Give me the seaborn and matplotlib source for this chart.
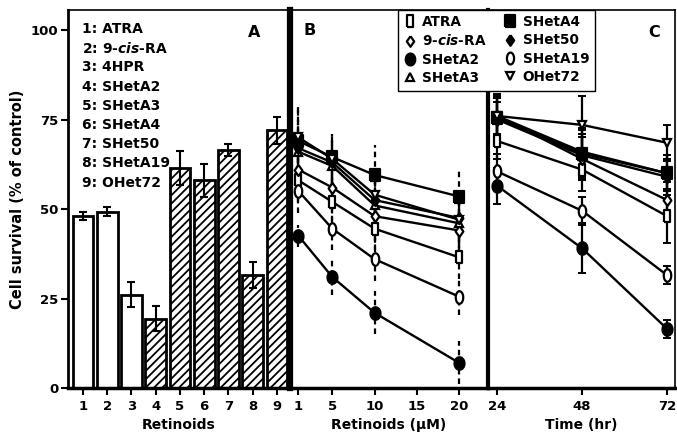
import numpy as np
import pandas as pd
import matplotlib
matplotlib.use("Agg")
import matplotlib.pyplot as plt
from matplotlib.lines import Line2D
import seaborn as sns

sns.set_theme(style="ticks")
plt.rcParams['font.family'] = ['DejaVu Sans']
plt.rcParams['font.weight'] = 'bold'
plt.rcParams['axes.labelweight'] = 'bold'
plt.rcParams['text.color'] = 'black'
plt.rcParams['axes.labelcolor'] = 'black'
plt.rcParams['mathtext.fontset'] = 'custom'
plt.rcParams['mathtext.it'] = 'DejaVu Sans:italic:bold'
plt.rcParams['mathtext.rm'] = 'DejaVu Sans:bold'
plt.rcParams['hatch.linewidth'] = 1.3

# --- dados: painel A (barras) ---
bar_labels = ['1', '2', '3', '4', '5', '6', '7', '8', '9']
bar_names = ['ATRA', '9-$\\it{cis}$-RA', '4HPR', 'SHetA2', 'SHetA3',
             'SHetA4', 'SHet50', 'SHetA19', 'OHet72']
bar_vals = [48.0, 49.3, 26.0, 19.3, 61.5, 58.0, 66.5, 31.5, 72.0]
bar_err = [1.2, 1.3, 3.5, 3.5, 4.7, 4.5, 1.8, 3.7, 3.8]
bar_hatched = [False, False, False, True, True, True, True, True, True]

# --- dados: painel B (dose) ---
conc_um = [1, 5, 10, 20]
b_atra = [58.0, 52.0, 44.5, 36.5]
b_9cis = [61.0, 56.0, 48.0, 44.0]
b_sheta2 = [42.5, 31.0, 21.0, 7.0]
b_sheta3 = [66.0, 62.0, 51.0, 46.0]
b_sheta4 = [69.0, 64.5, 59.5, 53.5]
b_shet50 = [67.0, 63.0, 52.5, 47.5]
b_sheta19 = [55.0, 44.5, 36.0, 25.5]
b_ohet72 = [70.0, 64.0, 54.0, 47.0]
b_err = [[6, 6, 6, 6], [6, 6, 7, 6], [3, 5, 6, 6], [7, 6, 7, 7],
         [9, 6.5, 8.5, 8], [7, 6, 7, 7], [6, 6, 6, 5], [9, 7, 8, 7]]

# --- dados: painel C (tempo) ---
time_hr = [24, 48, 72]
c_atra = [69.0, 61.0, 48.0]
c_9cis = [76.0, 64.0, 52.5]
c_sheta2 = [56.5, 39.0, 16.5]
c_sheta3 = [76.0, 66.0, 60.0]
c_sheta4 = [75.5, 65.5, 60.0]
c_shet50 = [75.0, 65.0, 59.0]
c_sheta19 = [60.5, 49.5, 31.5]
c_ohet72 = [76.0, 73.5, 68.5]
c_err = [[5, 6, 7.5], [5, 6, 5], [5, 7, 2.5], [5, 6, 5],
         [6, 7, 5], [5, 6, 5], [5, 4, 2.5], [6, 8, 5]]

compounds = ['ATRA', '9-$\\it{cis}$-RA', 'SHetA2', 'SHetA3',
             'SHetA4', 'SHet50', 'SHetA19', 'OHet72']
b_series = [b_atra, b_9cis, b_sheta2, b_sheta3, b_sheta4, b_shet50, b_sheta19, b_ohet72]
c_series = [c_atra, c_9cis, c_sheta2, c_sheta3, c_sheta4, c_shet50, c_sheta19, c_ohet72]

# formas dos marcadores (alongadas na vertical como no original)
t = np.linspace(0, 2 * np.pi, 40)
rect = [(-0.55, -1), (0.55, -1), (0.55, 1), (-0.55, 1), (-0.55, -1)]
diam = [(0, 1), (0.7, 0), (0, -1), (-0.7, 0), (0, 1)]
oval_f = list(zip(0.8 * np.cos(t), np.sin(t)))
oval_o = list(zip(0.6 * np.cos(t), np.sin(t)))
sq = [(-0.85, -1), (0.85, -1), (0.85, 1), (-0.85, 1), (-0.85, -1)]
marker_styles = {
    'ATRA': (rect, 'white', 9),
    '9-$\\it{cis}$-RA': (diam, 'white', 8),
    'SHetA2': (oval_f, 'black', 9),
    'SHetA3': ('^', 'white', 6),
    'SHetA4': (sq, 'black', 9),
    'SHet50': (diam, 'black', 8),
    'SHetA19': (oval_o, 'white', 9),
    'OHet72': ('v', 'white', 6),
}

def long_df(xs, series, errs):
    rows = []
    for name, ys, es in zip(compounds, series, errs):
        for x, y, e in zip(xs, ys, es):
            rows.append({'compound': name, 'x': x, 'y': y, 'err': e})
    return pd.DataFrame(rows)

df_b = long_df(conc_um, b_series, b_err)
df_c = long_df(time_hr, c_series, c_err)

fig = plt.figure(figsize=(6.77, 4.37), dpi=100)
bot, hgt = 0.1121, 0.865
axA = fig.add_axes([0.1004, bot, 0.328, hgt])
axB = fig.add_axes([0.4284, bot, 0.2925, hgt])
axC = fig.add_axes([0.7208, bot, 0.2762, hgt])

# --- painel A ---
sns.barplot(x=bar_labels, y=bar_vals, color='white', edgecolor='black',
            linewidth=2, width=0.85, saturation=1, ax=axA)
for patch, h in zip(axA.patches, bar_hatched):
    patch.set_facecolor('white')
    if h:
        patch.set_hatch('////')
axA.errorbar(np.arange(len(bar_vals)), bar_vals, yerr=bar_err, fmt='none',
             ecolor='black', elinewidth=1.5, capsize=3, capthick=1.5)
axA.set_xlim(-0.62, 8.54)
axA.set_ylim(0, 105.6)
axA.set_yticks([0, 25, 50, 75, 100])
axA.set_ylabel('Cell survival (% of control)', fontsize=10.5, labelpad=4)
axA.set_xlabel('Retinoids', fontsize=10, labelpad=4)
for i, (lab, nm) in enumerate(zip(bar_labels, bar_names)):
    axA.text(0.065, 0.95 - i * 0.0508, f'{lab}: {nm}', transform=axA.transAxes,
             fontsize=10, fontweight='bold', va='center', ha='left')
axA.text(0.84, 0.94, 'A', transform=axA.transAxes, fontsize=11.5,
         fontweight='bold', va='center', ha='center')

# --- painéis B e C ---
def draw_panel(ax, df, dashed):
    for name in compounds:
        sub = df[df['compound'] == name]
        mk, fc, ms = marker_styles[name]
        eb = ax.errorbar(sub['x'], sub['y'], yerr=sub['err'], fmt='none',
                         ecolor='black', elinewidth=1.6,
                         capsize=0 if dashed else 3, capthick=1.4, zorder=2)
        if dashed:
            eb[2][0].set_linestyle((0, (2.5, 1.8)))
        sns.lineplot(data=sub, x='x', y='y', color='black', linewidth=1.7,
                     marker=mk, markersize=ms, markerfacecolor=fc,
                     markeredgecolor='black', markeredgewidth=1.6,
                     ax=ax, zorder=3)
    ax.set_ylim(0, 105.6)
    ax.set_yticks([])
    ax.set_ylabel('')

draw_panel(axB, df_b, True)
axB.set_xlim(0, 23.4)
axB.set_xticks([1, 5, 10, 15, 20])
axB.set_xlabel('Retinoids (\u03bcM)', fontsize=10, labelpad=4)
axB.text(0.1, 0.945, 'B', transform=axB.transAxes, fontsize=11.5,
         fontweight='bold', va='center', ha='center')

draw_panel(axC, df_c, False)
axC.set_xlim(21.4, 74.2)
axC.set_xticks([24, 48, 72])
axC.set_xlabel('Time (hr)', fontsize=10, labelpad=4)
axC.text(0.89, 0.94, 'C', transform=axC.transAxes, fontsize=11.5,
         fontweight='bold', va='center', ha='center')

# bordas e ticks
for ax in (axA, axB, axC):
    ax.tick_params(axis='both', direction='out', length=5, width=1.5,
                   labelsize=9.5, pad=2, colors='black')
    for lbl in ax.get_xticklabels() + ax.get_yticklabels():
        lbl.set_fontweight('bold')
    for s in ax.spines.values():
        s.set_color('black')
    ax.spines['top'].set_linewidth(1.2)
    ax.spines['bottom'].set_linewidth(2.5)
    ax.spines['right'].set_linewidth(1.5)
    ax.grid(False)
    ax.tick_params(axis='x', pad=3.5)
axA.spines['left'].set_linewidth(2)
axA.spines['right'].set_visible(False)
axB.spines['left'].set_linewidth(4.5)
axB.spines['right'].set_visible(False)
axC.spines['left'].set_linewidth(3)
axC.spines['right'].set_linewidth(1.2)

# legenda (só marcadores)
handles = []
for name in compounds:
    mk, fc, ms = marker_styles[name]
    handles.append(Line2D([], [], linestyle='none', marker=mk, color='black',
                          markerfacecolor=fc, markeredgewidth=1.6,
                          markersize=ms * 0.95))
leg = fig.legend(handles, compounds,
                 ncol=2, loc='upper left', bbox_to_anchor=(0.588, 0.978),
                 frameon=True, fancybox=False, edgecolor='black', framealpha=1,
                 handlelength=0.9, handletextpad=0.45, columnspacing=1.3,
                 labelspacing=0.32, borderpad=0.4, borderaxespad=0,
                 prop={'weight': 'bold', 'size': 9.8})
leg.get_frame().set_linewidth(1.0)

plt.savefig('out.png', dpi=100)
print("salvo")
